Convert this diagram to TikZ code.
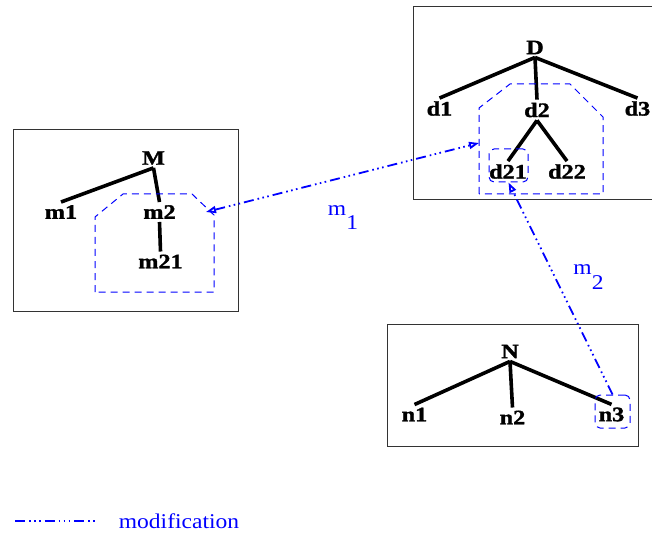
\documentclass[tikz,border=0pt]{standalone}
\usepackage{fontspec}
\setmainfont{Liberation Serif}[FakeStretch=1.12]
\newfontfamily\treefont{Liberation Serif Bold}[FakeStretch=1.18, FakeBold=1.6]
\usepackage{tikz}
\usetikzlibrary{arrows.meta}

\tikzset{
  word/.style={font=\treefont\fontsize{20.5}{20.5}\selectfont, inner xsep=1pt, inner ysep=3pt},
  branch/.style={line width=3.6pt},
  frame/.style={draw=black!80, line width=0.9pt},
  region/.style={draw=blue, line width=1pt, dash pattern=on 7pt off 5pt},
  hlbox/.style={region, rounded corners=5pt, minimum width=37pt, minimum height=33pt, inner sep=0pt},
  modif/.style={blue, line width=1.8pt, dash pattern=on 10pt off 4pt on 1.6pt off 3.4pt on 1.6pt off 3.4pt on 1.6pt off 4pt},
  mlabel/.style={text=blue, font=\fontsize{21}{21}\selectfont, inner sep=0pt}
}

\begin{document}
\begin{tikzpicture}[x=1pt, y=-1pt, >={Triangle[open, length=10pt, width=7pt]}]
    \clip (0,0) rectangle (652,534);

    \draw [frame] (13,129) rectangle (238,311);
    \node [word] (M) at (153.5,158) {M};
    \node [word] (m1) at (61,212) {m1};
    \node [word] (m2) at (159.5,212) {m2};
    \node [word] (m21) at (160.5,261.5) {m21};
    \draw [branch] (M.south) -- (m1.north);
    \draw [branch] (M.south) -- (m2.north);
    \draw [branch] (m2.south) -- (m21.north);
    \draw [region] (95,292) -- (95,217) -- (123,194) -- (192,194) -- (214,215) -- (214,292) -- cycle;
    \coordinate (regM) at (206,212);

    \draw [frame] (413,6) rectangle (665,199);
    \node [word] (D) at (535,47.5) {D};
    \node [word] (d1) at (439.5,108.5) {d1};
    \node [word] (d2) at (537,110) {d2};
    \node [word] (d3) at (637.5,108.5) {d3};
    \node [word] (d21) at (508,171.5) {d21};
    \node [word] (d22) at (567,171.5) {d22};
    \draw [branch] (D.south) -- (d1.north);
    \draw [branch] (D.south) -- (d2.north);
    \draw [branch] (D.south) -- (d3.north);
    \draw [branch] (d2.south) -- (d21.north);
    \draw [branch] (d2.south) -- (d22.north);
    \draw [region] (479,194) -- (479,108) -- (510,84) -- (570,84) -- (603,117) -- (603,194) -- cycle;
    \node [hlbox, minimum width=39pt] (d21box) at (508.5,165.5) {};
    \coordinate (regD) at (479,143);

    \draw [frame] (387,324) rectangle (638,446);
    \node [word] (N) at (510,351.5) {N};
    \node [word] (n1) at (414.5,414.5) {n1};
    \node [word] (n2) at (512.5,417.5) {n2};
    \node [word] (n3) at (611.5,414.5) {n3};
    \draw [branch] (N.south) -- (n1.north);
    \draw [branch] (N.south) -- (n2.north);
    \draw [branch] (N.south) -- (n3.north);
    \node [hlbox, minimum width=35pt] (n3box) at (612.5,411.5) {};

    \draw [modif, <->] (regM) -- (regD);
    \draw [modif, ->] (n3box.north) -- (d21box.south);
    \node [mlabel] (lab1) at (343,217.5) {m\raisebox{-.7em}{1}};
    \node [mlabel] (lab2) at (588.5,277) {m\raisebox{-.7em}{2}};

    \coordinate (keyA) at (15,521);
    \coordinate (keyB) at (95,521);
    \draw [modif] (keyA) -- (keyB);
    \node [mlabel] (key) at (179,521) {modification};
\end{tikzpicture}
\end{document}
